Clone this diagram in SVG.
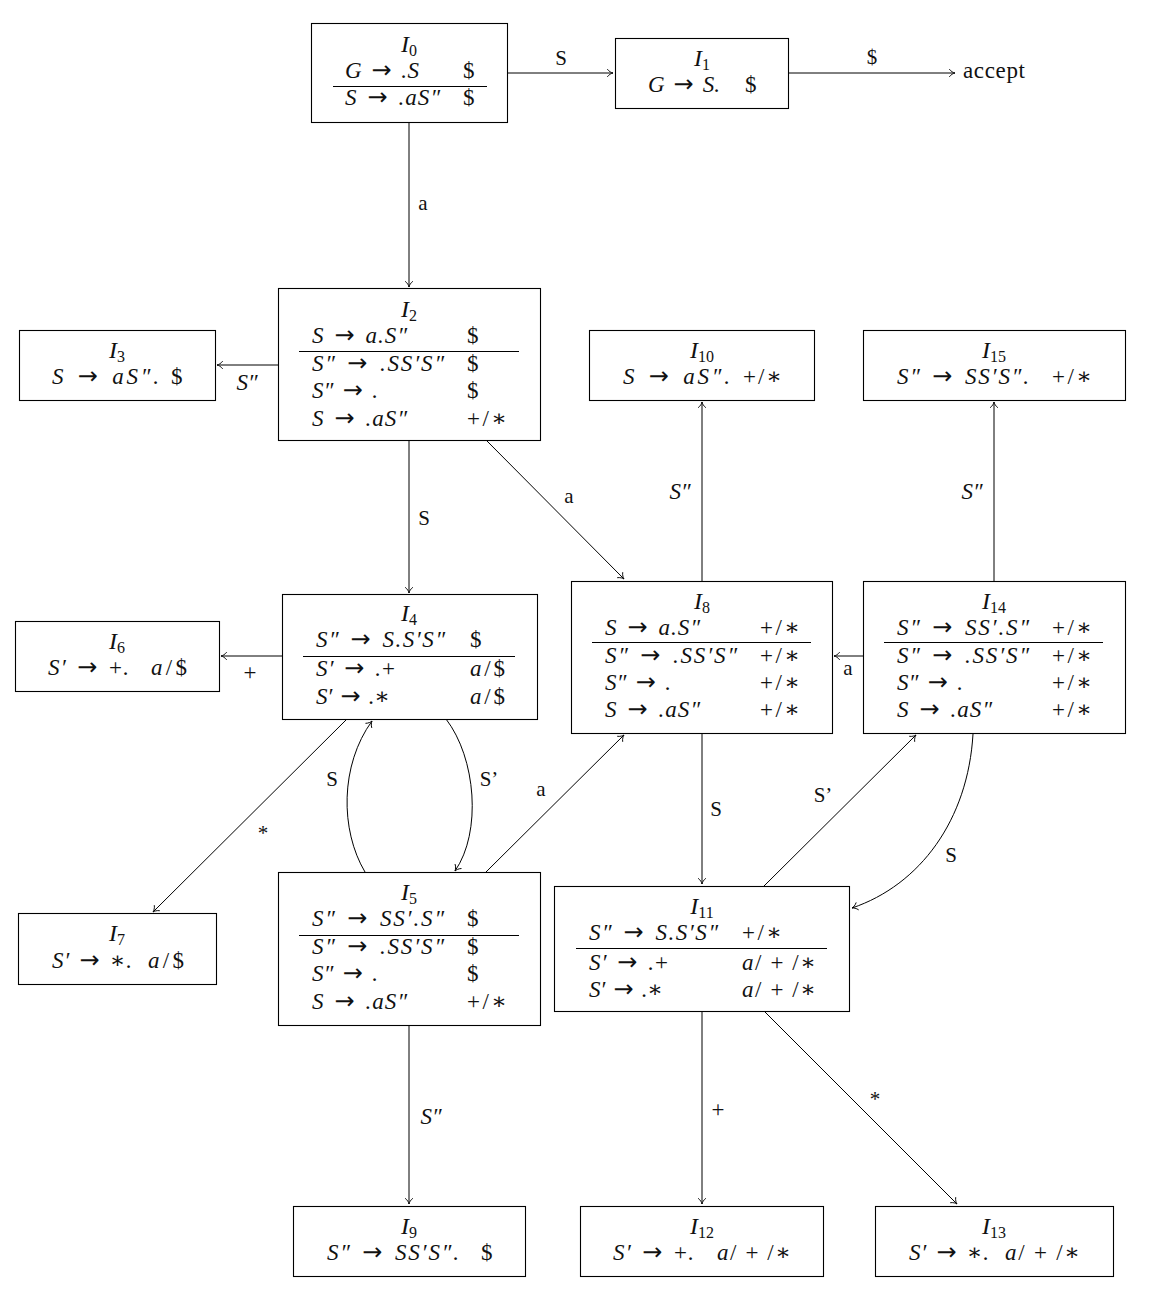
<svg xmlns="http://www.w3.org/2000/svg" width="1156" height="1292" viewBox="0 0 1156 1292">
  <style>
    .bg { fill: #ffffff; }
    .box { fill: none; stroke: #000; stroke-width: 1.1; }
    .rule { stroke: #000; stroke-width: 1.1; }
    .t { font-family: "Liberation Serif", "DejaVu Serif", serif; font-size: 21px; fill: #111; }
    .it { font-size: 23px; }
    .ttl { font-size: 24px; }
    .m { font-style: italic; }
    .up { font-style: normal; }
    .ar { font-family: "DejaVu Sans", sans-serif; font-style: normal; font-size: 24px; }
    .sub { font-size: 16px; font-style: normal; }
    .c { text-anchor: middle; }
    .edge { fill: none; stroke: #000; stroke-width: 1; marker-end: url(#tip); }
  </style>
  <defs>
    <marker id="tip" markerUnits="userSpaceOnUse" viewBox="-8 -5 10 10" refX="0" refY="0" markerWidth="10" markerHeight="10" orient="auto">
      <path d="M-5.5,-3.6 C-4,-1.5 -1.6,-0.4 0,0 C-1.6,0.4 -4,1.5 -5.5,3.6" fill="none" stroke="#000" stroke-width="0.9" stroke-linecap="round"/>
    </marker>
  </defs>
  <rect class="bg" x="0" y="0" width="1156" height="1292"/>

  <!-- connectors -->
  <g id="edges">
    <path class="edge" d="M507,73 H613"/>
    <path class="edge" d="M788,73 H955"/>
    <path class="edge" d="M409,122 V287"/>
    <path class="edge" d="M278,365 H217"/>
    <path class="edge" d="M409,440 V593"/>
    <path class="edge" d="M486,440 L624,579"/>
    <path class="edge" d="M702,581 V402"/>
    <path class="edge" d="M994,581 V402"/>
    <path class="edge" d="M863,656 H834"/>
    <path class="edge" d="M282,656 H221"/>
    <path class="edge" d="M347,719 L153,912"/>
    <path class="edge" d="M365,872 C340,830 340,765 372,721"/>
    <path class="edge" d="M446,719 C476,758 482,832 455,871"/>
    <path class="edge" d="M486,872 L624,735"/>
    <path class="edge" d="M702,733 V884"/>
    <path class="edge" d="M764,886 L916,735"/>
    <path class="edge" d="M973,734 C968,820 920,885 852,908"/>
    <path class="edge" d="M409,1025 V1204"/>
    <path class="edge" d="M702,1011 V1204"/>
    <path class="edge" d="M764,1011 L957,1204"/>

    <!-- connector labels -->
    <text class="t c" x="561" y="65">S</text>
    <text class="t c" x="872" y="64">$</text>
    <text class="t it" x="963" y="78" textLength="62">accept</text>
    <text class="t c" x="423" y="210">a</text>
    <text class="t it c m" x="247" y="390">S″</text>
    <text class="t c" x="424" y="525">S</text>
    <text class="t c" x="569" y="503">a</text>
    <text class="t it c m" x="680" y="499">S″</text>
    <text class="t it c m" x="972" y="499">S″</text>
    <text class="t c" x="848" y="675">a</text>
    <text class="t it c" x="250" y="680">+</text>
    <text class="t c" x="263" y="840">*</text>
    <text class="t c" x="332" y="786">S</text>
    <text class="t c" x="489" y="786">S’</text>
    <text class="t c" x="541" y="796">a</text>
    <text class="t c" x="716" y="816">S</text>
    <text class="t c" x="823" y="802">S’</text>
    <text class="t c" x="951" y="862">S</text>
    <text class="t it c m" x="431" y="1124">S″</text>
    <text class="t it c" x="718" y="1117">+</text>
    <text class="t c" x="875" y="1106">*</text>
  </g>

  <!-- I0 -->
  <g id="I0">
    <rect class="box" x="311.5" y="23.5" width="196" height="99"/>
    <text class="t ttl c m" x="409" y="52">I<tspan class="sub" dy="4">0</tspan></text>
    <text class="t it m" x="345" y="78" textLength="74">G <tspan class="ar" dx="3">→</tspan><tspan dx="3"> .S</tspan></text>
    <text class="t it" x="463" y="78">$</text>
    <line class="rule" x1="333" y1="86.5" x2="487" y2="86.5"/>
    <text class="t it m" x="345" y="105" textLength="95">S <tspan class="ar" dx="3">→</tspan><tspan dx="3"> .aS″</tspan></text>
    <text class="t it" x="463" y="105">$</text>
  </g>

  <!-- I1 -->
  <g id="I1">
    <rect class="box" x="615.5" y="38.5" width="173" height="70"/>
    <text class="t ttl c m" x="702" y="66">I<tspan class="sub" dy="4">1</tspan></text>
    <text class="t it m" x="648" y="92" textLength="72">G <tspan class="ar" dx="3">→</tspan><tspan dx="3"> S.</tspan></text>
    <text class="t it" x="745" y="92">$</text>
  </g>

  <!-- I2 -->
  <g id="I2">
    <rect class="box" x="278.5" y="288.5" width="262" height="152"/>
    <text class="t ttl c m" x="409" y="317">I<tspan class="sub" dy="4">2</tspan></text>
    <text class="t it m" x="312" y="343" textLength="95">S <tspan class="ar" dx="3">→</tspan><tspan dx="3"> a.S″</tspan></text>
    <text class="t it" x="467" y="343">$</text>
    <line class="rule" x1="299" y1="351.5" x2="519" y2="351.5"/>
    <text class="t it m" x="312" y="371" textLength="132">S″ <tspan class="ar" dx="3">→</tspan><tspan dx="3"> .SS′S″</tspan></text>
    <text class="t it" x="467" y="371">$</text>
    <text class="t it m" x="312" y="398" textLength="66">S″ <tspan class="ar" dx="3">→</tspan><tspan dx="3"> .</tspan></text>
    <text class="t it" x="467" y="398">$</text>
    <text class="t it m" x="312" y="426" textLength="95">S <tspan class="ar" dx="3">→</tspan><tspan dx="3"> .aS″</tspan></text>
    <text class="t it" x="467" y="426" textLength="40">+/∗</text>
  </g>

  <!-- I3 -->
  <g id="I3">
    <rect class="box" x="19.5" y="330.5" width="196" height="70"/>
    <text class="t ttl c m" x="117" y="358">I<tspan class="sub" dy="4">3</tspan></text>
    <text class="t it m" x="52" y="384" textLength="107">S <tspan class="ar" dx="3">→</tspan><tspan dx="3"> aS″.</tspan></text>
    <text class="t it" x="171" y="384">$</text>
  </g>

  <!-- I10 -->
  <g id="I10">
    <rect class="box" x="589.5" y="330.5" width="225" height="70"/>
    <text class="t ttl c m" x="702" y="358">I<tspan class="sub" dy="4">10</tspan></text>
    <text class="t it m" x="623" y="384" textLength="107">S <tspan class="ar" dx="3">→</tspan><tspan dx="3"> aS″.</tspan></text>
    <text class="t it" x="743" y="384" textLength="39">+/∗</text>
  </g>

  <!-- I15 -->
  <g id="I15">
    <rect class="box" x="863.5" y="330.5" width="262" height="70"/>
    <text class="t ttl c m" x="994" y="358">I<tspan class="sub" dy="4">15</tspan></text>
    <text class="t it m" x="897" y="384" textLength="132">S″ <tspan class="ar" dx="3">→</tspan><tspan dx="3"> SS′S″.</tspan></text>
    <text class="t it" x="1052" y="384" textLength="40">+/∗</text>
  </g>

  <!-- I4 -->
  <g id="I4">
    <rect class="box" x="282.5" y="594.5" width="255" height="125"/>
    <text class="t ttl c m" x="409" y="621">I<tspan class="sub" dy="4">4</tspan></text>
    <text class="t it m" x="316" y="647" textLength="129">S″ <tspan class="ar" dx="3">→</tspan><tspan dx="3"> S.S′S″</tspan></text>
    <text class="t it" x="470" y="647">$</text>
    <line class="rule" x1="303" y1="656.5" x2="515" y2="656.5"/>
    <text class="t it m" x="316" y="676" textLength="79">S′ <tspan class="ar" dx="3">→</tspan><tspan dx="3"> .</tspan><tspan class="up">+</tspan></text>
    <text class="t it" x="470" y="676" textLength="35"><tspan class="m">a</tspan>/$</text>
    <text class="t it m" x="316" y="704" textLength="74">S′ <tspan class="ar" dx="3">→</tspan><tspan dx="3"> .</tspan><tspan class="up">∗</tspan></text>
    <text class="t it" x="470" y="704" textLength="35"><tspan class="m">a</tspan>/$</text>
  </g>

  <!-- I6 -->
  <g id="I6">
    <rect class="box" x="15.5" y="621.5" width="204" height="70"/>
    <text class="t ttl c m" x="117" y="649">I<tspan class="sub" dy="4">6</tspan></text>
    <text class="t it m" x="48" y="675" textLength="81">S′ <tspan class="ar" dx="3">→</tspan><tspan class="up" dx="3"> +</tspan>.</text>
    <text class="t it" x="151" y="675" textLength="36"><tspan class="m">a</tspan>/$</text>
  </g>

  <!-- I8 -->
  <g id="I8">
    <rect class="box" x="571.5" y="581.5" width="261" height="152"/>
    <text class="t ttl c m" x="702" y="609">I<tspan class="sub" dy="4">8</tspan></text>
    <text class="t it m" x="605" y="635" textLength="95">S <tspan class="ar" dx="3">→</tspan><tspan dx="3"> a.S″</tspan></text>
    <text class="t it" x="760" y="635" textLength="40">+/∗</text>
    <line class="rule" x1="592" y1="642.5" x2="811" y2="642.5"/>
    <text class="t it m" x="605" y="663" textLength="132">S″ <tspan class="ar" dx="3">→</tspan><tspan dx="3"> .SS′S″</tspan></text>
    <text class="t it" x="760" y="663" textLength="40">+/∗</text>
    <text class="t it m" x="605" y="690" textLength="66">S″ <tspan class="ar" dx="3">→</tspan><tspan dx="3"> .</tspan></text>
    <text class="t it" x="760" y="690" textLength="40">+/∗</text>
    <text class="t it m" x="605" y="717" textLength="95">S <tspan class="ar" dx="3">→</tspan><tspan dx="3"> .aS″</tspan></text>
    <text class="t it" x="760" y="717" textLength="40">+/∗</text>
  </g>

  <!-- I14 -->
  <g id="I14">
    <rect class="box" x="863.5" y="581.5" width="262" height="152"/>
    <text class="t ttl c m" x="994" y="609">I<tspan class="sub" dy="4">14</tspan></text>
    <text class="t it m" x="897" y="635" textLength="132">S″ <tspan class="ar" dx="3">→</tspan><tspan dx="3"> SS′.S″</tspan></text>
    <text class="t it" x="1052" y="635" textLength="40">+/∗</text>
    <line class="rule" x1="884" y1="642.5" x2="1103" y2="642.5"/>
    <text class="t it m" x="897" y="663" textLength="132">S″ <tspan class="ar" dx="3">→</tspan><tspan dx="3"> .SS′S″</tspan></text>
    <text class="t it" x="1052" y="663" textLength="40">+/∗</text>
    <text class="t it m" x="897" y="690" textLength="66">S″ <tspan class="ar" dx="3">→</tspan><tspan dx="3"> .</tspan></text>
    <text class="t it" x="1052" y="690" textLength="40">+/∗</text>
    <text class="t it m" x="897" y="717" textLength="95">S <tspan class="ar" dx="3">→</tspan><tspan dx="3"> .aS″</tspan></text>
    <text class="t it" x="1052" y="717" textLength="40">+/∗</text>
  </g>

  <!-- I7 -->
  <g id="I7">
    <rect class="box" x="18.5" y="913.5" width="198" height="71"/>
    <text class="t ttl c m" x="117" y="941">I<tspan class="sub" dy="4">7</tspan></text>
    <text class="t it m" x="52" y="968" textLength="80">S′ <tspan class="ar" dx="3">→</tspan><tspan class="up" dx="3"> ∗</tspan>.</text>
    <text class="t it" x="148" y="968" textLength="36"><tspan class="m">a</tspan>/$</text>
  </g>

  <!-- I5 -->
  <g id="I5">
    <rect class="box" x="278.5" y="872.5" width="262" height="153"/>
    <text class="t ttl c m" x="409" y="900">I<tspan class="sub" dy="4">5</tspan></text>
    <text class="t it m" x="312" y="926" textLength="132">S″ <tspan class="ar" dx="3">→</tspan><tspan dx="3"> SS′.S″</tspan></text>
    <text class="t it" x="467" y="926">$</text>
    <line class="rule" x1="299" y1="935.5" x2="519" y2="935.5"/>
    <text class="t it m" x="312" y="954" textLength="132">S″ <tspan class="ar" dx="3">→</tspan><tspan dx="3"> .SS′S″</tspan></text>
    <text class="t it" x="467" y="954">$</text>
    <text class="t it m" x="312" y="981" textLength="66">S″ <tspan class="ar" dx="3">→</tspan><tspan dx="3"> .</tspan></text>
    <text class="t it" x="467" y="981">$</text>
    <text class="t it m" x="312" y="1009" textLength="95">S <tspan class="ar" dx="3">→</tspan><tspan dx="3"> .aS″</tspan></text>
    <text class="t it" x="467" y="1009" textLength="40">+/∗</text>
  </g>

  <!-- I11 -->
  <g id="I11">
    <rect class="box" x="554.5" y="886.5" width="295" height="125"/>
    <text class="t ttl c m" x="702" y="914">I<tspan class="sub" dy="4">11</tspan></text>
    <text class="t it m" x="589" y="940" textLength="129">S″ <tspan class="ar" dx="3">→</tspan><tspan dx="3"> S.S′S″</tspan></text>
    <text class="t it" x="742" y="940" textLength="40">+/∗</text>
    <line class="rule" x1="576" y1="948.5" x2="827" y2="948.5"/>
    <text class="t it m" x="589" y="970" textLength="79">S′ <tspan class="ar" dx="3">→</tspan><tspan dx="3"> .</tspan><tspan class="up">+</tspan></text>
    <text class="t it" x="742" y="970" textLength="74"><tspan class="m">a</tspan>/ + /∗</text>
    <text class="t it m" x="589" y="997" textLength="74">S′ <tspan class="ar" dx="3">→</tspan><tspan dx="3"> .</tspan><tspan class="up">∗</tspan></text>
    <text class="t it" x="742" y="997" textLength="74"><tspan class="m">a</tspan>/ + /∗</text>
  </g>

  <!-- I9 -->
  <g id="I9">
    <rect class="box" x="293.5" y="1206.5" width="232" height="70"/>
    <text class="t ttl c m" x="409" y="1234">I<tspan class="sub" dy="4">9</tspan></text>
    <text class="t it m" x="327" y="1260" textLength="132">S″ <tspan class="ar" dx="3">→</tspan><tspan dx="3"> SS′S″.</tspan></text>
    <text class="t it" x="481" y="1260">$</text>
  </g>

  <!-- I12 -->
  <g id="I12">
    <rect class="box" x="580.5" y="1206.5" width="243" height="70"/>
    <text class="t ttl c m" x="702" y="1234">I<tspan class="sub" dy="4">12</tspan></text>
    <text class="t it m" x="613" y="1260" textLength="81">S′ <tspan class="ar" dx="3">→</tspan><tspan class="up" dx="3"> +</tspan>.</text>
    <text class="t it" x="717" y="1260" textLength="74"><tspan class="m">a</tspan>/ + /∗</text>
  </g>

  <!-- I13 -->
  <g id="I13">
    <rect class="box" x="875.5" y="1206.5" width="238" height="70"/>
    <text class="t ttl c m" x="994" y="1234">I<tspan class="sub" dy="4">13</tspan></text>
    <text class="t it m" x="909" y="1260" textLength="80">S′ <tspan class="ar" dx="3">→</tspan><tspan class="up" dx="3"> ∗</tspan>.</text>
    <text class="t it" x="1005" y="1260" textLength="75"><tspan class="m">a</tspan>/ + /∗</text>
  </g>
</svg>
